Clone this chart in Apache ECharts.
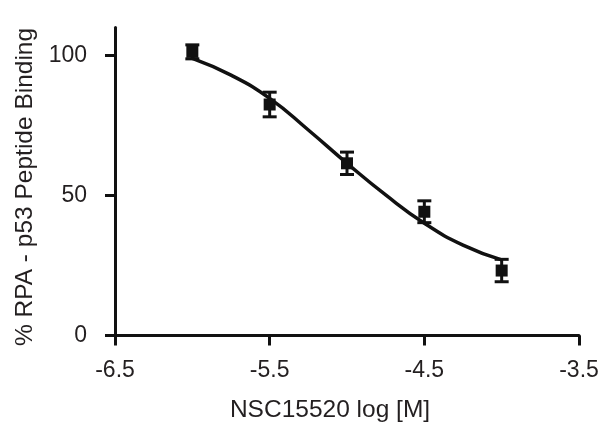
<!DOCTYPE html>
<html>
<head>
<meta charset="utf-8">
<script src="https://cdn.jsdelivr.net/npm/echarts@6/dist/echarts.min.js"></script>
<style>html,body{margin:0;padding:0;background:#fff}#c{width:602px;height:440px}</style>
</head>
<body>
<div id="c"></div>
<script>
// Measured points (log concentration, % binding, error)
const logConc = [-6.0, -5.5, -5.0, -4.5, -4.0];
const binding = [101.3, 82.5, 61.5, 44.2, 23.2];
const errors = [2.5, 4.4, 4.0, 3.9, 4.0];
// Fitted curve
const curveX = [-6.0, -5.75, -5.5, -5.25, -5.0, -4.75, -4.5, -4.25, -4.0];
const curveY = [99.0, 93.0, 84.7, 73.4, 61.5, 50.2, 40.1, 32.3, 27.0];
// Tick labels
const xTicks = [-6.5, -5.5, -4.5, -3.5];
const yTicks = [0, 50, 100];

const font = 'Liberation Sans, Arial, sans-serif';
const txt = '#231f20';
const chart = echarts.init(document.getElementById('c'), null, {renderer: 'canvas'});

const pts = logConc.map((x, i) => [x, binding[i], errors[i]]);
const curve = curveX.map((x, i) => [x, curveY[i]]);

chart.setOption({
  animation: false,
  backgroundColor: '#fff',
  grid: {left: 115, right: 23, top: 27.5, bottom: 104.5, containLabel: false},
  xAxis: {
    type: 'value', min: -6.5, max: -3.5,
    splitLine: {show: false},
    axisLine: {show: true, onZero: false, lineStyle: {color: '#111', width: 3}},
    axisTick: {show: true, length: 10, customValues: xTicks, lineStyle: {color: '#111', width: 3}},
    axisLabel: {customValues: xTicks, margin: 24, fontSize: 23, color: txt, fontFamily: font,
      formatter: v => v.toFixed(1)},
    name: 'NSC15520 log [M]', nameLocation: 'middle', nameGap: 62,
    nameTextStyle: {fontSize: 24.5, color: txt, fontFamily: font, padding: [0, 34, 0, 0]}
  },
  yAxis: {
    type: 'value', min: 0, max: 110,
    splitLine: {show: false},
    axisLine: {show: true, lineStyle: {color: '#111', width: 3}},
    axisTick: {show: true, length: 10, customValues: yTicks, lineStyle: {color: '#111', width: 3}},
    axisLabel: {customValues: yTicks, margin: 28, fontSize: 23, color: txt, fontFamily: font},
    name: '% RPA - p53 Peptide Binding', nameLocation: 'middle', nameGap: 76,
    nameTextStyle: {fontSize: 24.5, color: txt, fontFamily: font, padding: [0, 11, 0, 0]}
  },
  series: [
    {
      type: 'line', data: curve, smooth: true, showSymbol: false, z: 2,
      lineStyle: {color: '#111', width: 3.5}
    },
    {
      type: 'custom', z: 3,
      data: pts,
      renderItem: function (params, api) {
        const x = api.value(0), y = api.value(1), e = api.value(2);
        const top = api.coord([x, y + e]);
        const bot = api.coord([x, y - e]);
        const c = api.coord([x, y]);
        const hw = 7;
        const st = {stroke: '#111', lineWidth: 3};
        return {
          type: 'group',
          children: [
            {type: 'line', shape: {x1: top[0], y1: top[1], x2: bot[0], y2: bot[1]}, style: st},
            {type: 'line', shape: {x1: top[0] - hw, y1: top[1], x2: top[0] + hw, y2: top[1]}, style: st},
            {type: 'line', shape: {x1: bot[0] - hw, y1: bot[1], x2: bot[0] + hw, y2: bot[1]}, style: st},
            {type: 'rect', shape: {x: c[0] - 6, y: c[1] - 6, width: 12, height: 12}, style: {fill: '#111'}}
          ]
        };
      }
    }
  ]
});
</script>
</body>
</html>
